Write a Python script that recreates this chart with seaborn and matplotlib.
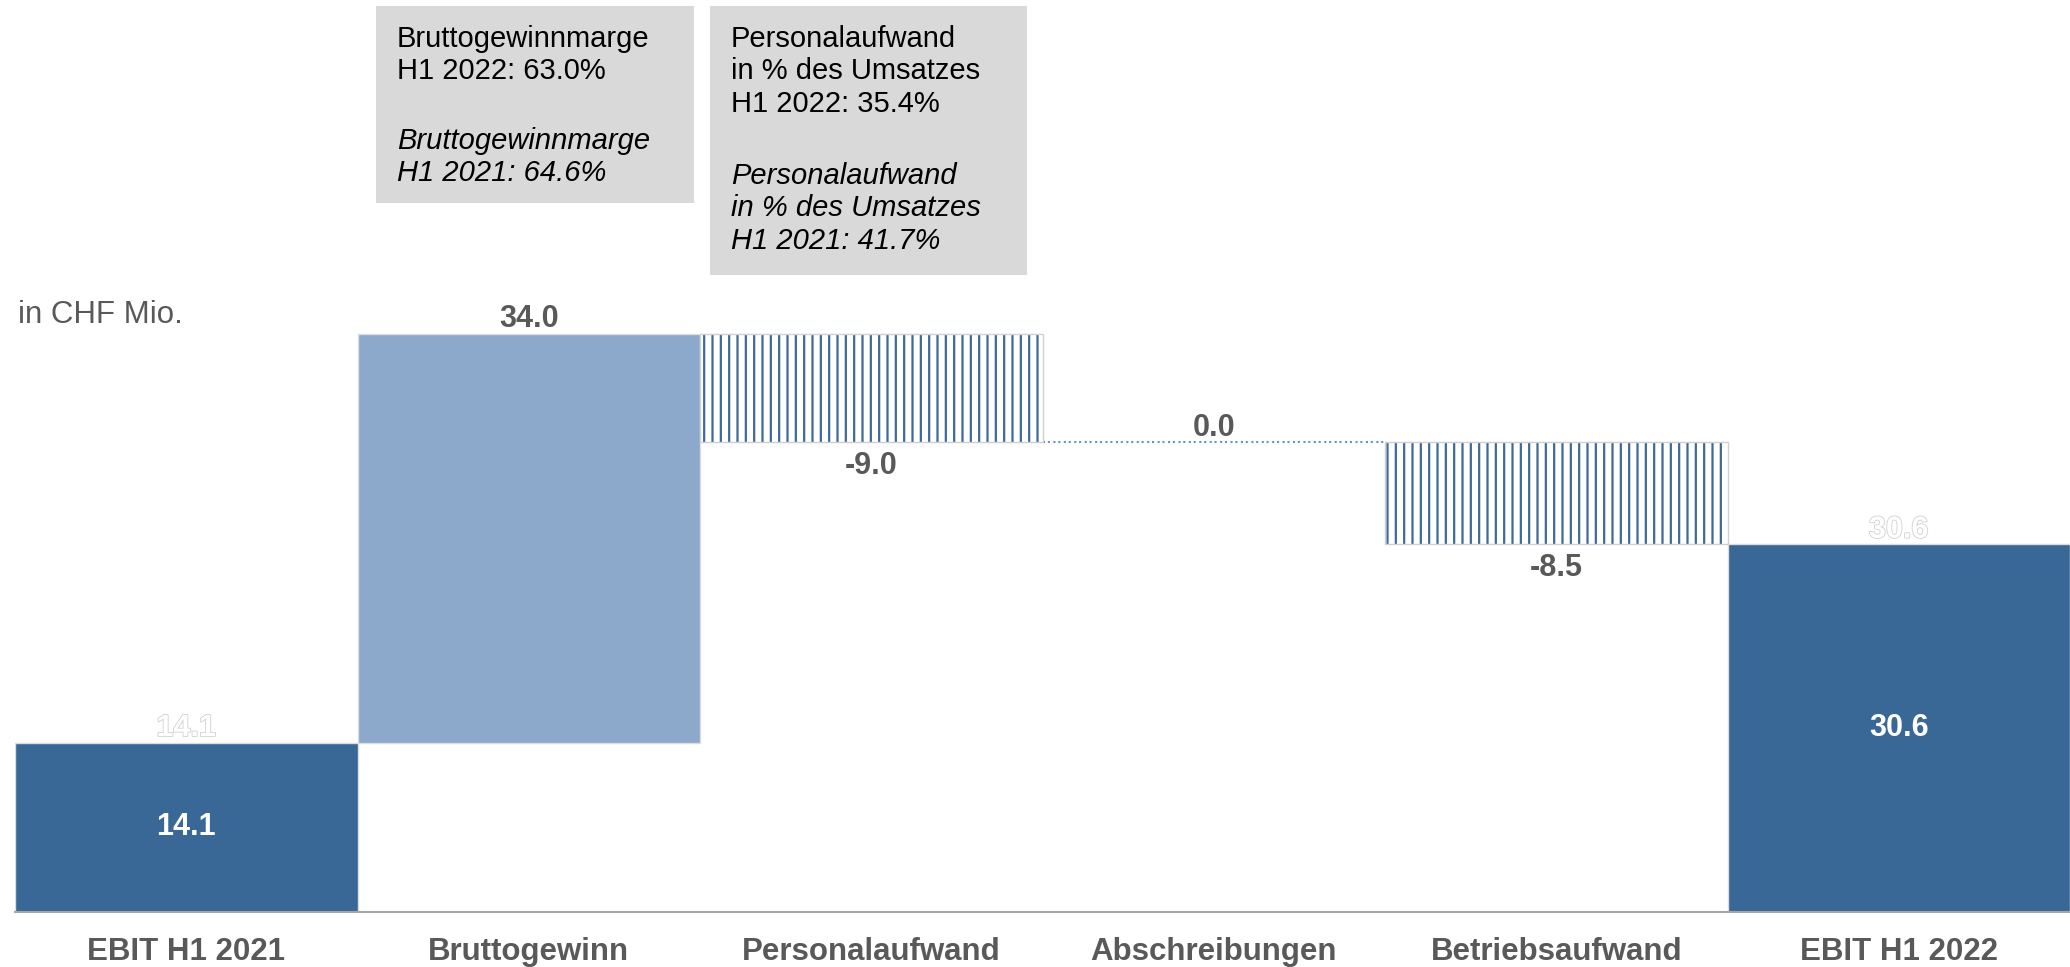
import matplotlib
matplotlib.use("Agg")
import matplotlib.pyplot as plt
import matplotlib.patheffects as pe
from matplotlib.patches import Rectangle
import seaborn as sns

# Waterfall data (CHF Mio.)
categories = ["EBIT H1 2021", "Bruttogewinn", "Personalaufwand",
              "Abschreibungen", "Betriebsaufwand", "EBIT H1 2022"]
deltas = [14.1, 34.0, -9.0, 0.0, -8.5, 30.6]
kinds = ["total", "up", "down", "down", "down", "total"]

# Annotation boxes
box_gross_2022 = "Bruttogewinnmarge\nH1 2022: 63.0%"
box_gross_2021 = "Bruttogewinnmarge\nH1 2021: 64.6%"
box_staff_2022 = "Personalaufwand\nin % des Umsatzes\nH1 2022: 35.4%"
box_staff_2021 = "Personalaufwand\nin % des Umsatzes\nH1 2021: 41.7%"
unit_label = "in CHF Mio."

dark_blue = "#3a6896"
light_blue = "#8ca9cc"
hatch_blue = "#3d6a99"
label_grey = "#595959"

sns.set_theme(style="white")
plt.rcParams["font.family"] = ["Liberation Sans", "DejaVu Sans"]
plt.rcParams["hatch.linewidth"] = 1.6

# running totals -> bar bottoms and heights
bottoms, heights = [], []
cum = 0.0
for d, k in zip(deltas, kinds):
    if k == "total":
        bottoms.append(0.0)
        heights.append(d)
        cum = d
    else:
        bottoms.append(min(cum, cum + d))
        heights.append(abs(d))
        cum += d

fills = [dark_blue if k == "total" else light_blue if k == "up" else "white" for k in kinds]

W, H = 2070, 967
fig = plt.figure(figsize=(W / 100, H / 100), dpi=100)
ax = fig.add_axes([15 / W, 1 - 912 / H, (W - 15) / W, 912 / H])

sns.barplot(x=categories, y=heights, hue=categories, palette=fills, width=1.0,
            saturation=1, legend=False, ax=ax, edgecolor="#dcdcdc", linewidth=1)

for p, b, h, k in zip(ax.patches, bottoms, heights, kinds):
    p.set_y(b)
    if k == "down":
        if h == 0:
            p.set_facecolor("none")
            p.set_edgecolor("#6a92c0")
            p.set_linewidth(1.5)
            p.set_linestyle((0, (1, 4)))
        else:
            p.set_facecolor("white")
            p.set_hatch("||")
            p.set_edgecolor(hatch_blue)
            p.set_linewidth(0)
            ax.add_patch(Rectangle(p.get_xy(), p.get_width(), h, fill=False,
                                   edgecolor="#d0d0d0", linewidth=1))

# value labels
for i, (d, b, h, k) in enumerate(zip(deltas, bottoms, heights, kinds)):
    txt = f"{d:.1f}"
    if k == "total":
        ax.text(i, b + h / 2, txt, ha="center", va="center", color="white",
                fontsize=22, fontweight="bold")
        ax.annotate(txt, (i, b + h), xytext=(0, 10.5), textcoords="offset points",
                    ha="center", va="center", color="white", fontsize=22, fontweight="bold",
                    path_effects=[pe.Stroke(linewidth=1.2, foreground="#d0d0d0"), pe.Normal()])
    elif d >= 0:
        ax.annotate(txt, (i, b + h), xytext=(0, 10.5), textcoords="offset points",
                    ha="center", va="center", color=label_grey, fontsize=22, fontweight="bold")
    else:
        ax.annotate(txt, (i, b), xytext=(0, -17), textcoords="offset points",
                    ha="center", va="center", color=label_grey, fontsize=22, fontweight="bold")

ax.set_xlim(-0.5, 5.5)
ax.set_ylim(0, 75.9)
ax.set_yticks([])
ax.set_ylabel("")
ax.tick_params(axis="x", length=0, pad=18, labelsize=22.5, labelcolor=label_grey)
for lbl in ax.get_xticklabels():
    lbl.set_fontweight("bold")
for side in ["left", "top", "right"]:
    ax.spines[side].set_visible(False)
ax.spines["bottom"].set_color("#a6a6a6")
ax.spines["bottom"].set_linewidth(1.5)
ax.patch.set_alpha(0)

fig.text(18 / W, 1 - 315 / H, unit_label, va="center", ha="left",
         fontsize=22.5, color=label_grey)

# grey info boxes
fig.add_artist(Rectangle((376 / W, 1 - 203 / H), (694 - 376) / W, (203 - 6) / H,
                         transform=fig.transFigure, facecolor="#d9d9d9", edgecolor="none"))
fig.add_artist(Rectangle((710 / W, 1 - 275 / H), (1027 - 710) / W, (275 - 6) / H,
                         transform=fig.transFigure, facecolor="#d9d9d9", edgecolor="none"))
fig.text(397 / W, 1 - 25 / H, box_gross_2022, va="top", ha="left", fontsize=21,
         linespacing=1.2, color="black")
fig.text(397 / W, 1 - 127 / H, box_gross_2021, va="top", ha="left", fontsize=21,
         linespacing=1.2, color="black", style="italic")
fig.text(731 / W, 1 - 25 / H, box_staff_2022, va="top", ha="left", fontsize=21,
         linespacing=1.2, color="black")
fig.text(731 / W, 1 - 162 / H, box_staff_2021, va="top", ha="left", fontsize=21,
         linespacing=1.2, color="black", style="italic")

fig.savefig("out.png", dpi=100)
